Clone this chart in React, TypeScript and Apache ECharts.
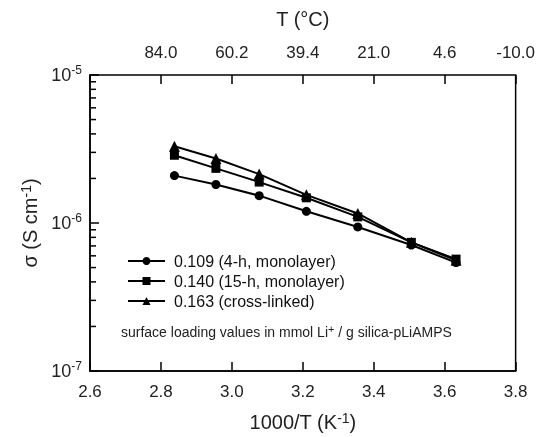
import React, { useEffect, useRef } from "react";
import * as echarts from "echarts";

const invT = [2.838, 2.955, 3.077, 3.21, 3.355, 3.506, 3.632];
const s109 = [2.09e-6, 1.82e-6, 1.53e-6, 1.2e-6, 9.4e-7, 7.1e-7, 5.4e-7];
const s140 = [2.87e-6, 2.34e-6, 1.89e-6, 1.48e-6, 1.1e-6, 7.4e-7, 5.7e-7];
const s163 = [3.3e-6, 2.73e-6, 2.14e-6, 1.55e-6, 1.16e-6, 7.4e-7, 5.6e-7];
const seriesNames = ["0.109 (4-h, monolayer)", "0.140 (15-h, monolayer)", "0.163 (cross-linked)"];
const topTickLabels = ["", "84.0", "60.2", "39.4", "21.0", "4.6", "-10.0"];
const bottomTicks = [2.6, 2.8, 3.0, 3.2, 3.4, 3.6, 3.8];
const minorTicks = [2e-7, 3e-7, 4e-7, 5e-7, 6e-7, 7e-7, 8e-7, 9e-7, 2e-6, 3e-6, 4e-6, 5e-6, 6e-6, 7e-6, 8e-6, 9e-6];

const FONT = "'Liberation Sans', Arial, sans-serif";

export default function App() {
  const ref = useRef<HTMLDivElement>(null);
  useEffect(() => {
    if (!ref.current) return;
    const chart = echarts.init(ref.current, null, { renderer: "svg" });
    const pairs = (ys: number[]) => invT.map((x, i) => [x, ys[i]]);
    const lineSeries = (name: string, ys: number[], symbol: string, size: number) => ({
      type: "line",
      name,
      data: pairs(ys),
      symbol,
      symbolSize: size,
      showAllSymbol: true,
      lineStyle: { color: "#000", width: 2 },
      itemStyle: { color: "#000" },
      emphasis: { disabled: true },
    });
    chart.setOption({
      animation: false,
      textStyle: { fontFamily: FONT },
      grid: { left: 90, right: 19, top: 75, bottom: 63, show: true, borderColor: "#000", borderWidth: 1.5 },
      legend: {
        orient: "vertical",
        left: 122,
        top: 248,
        itemWidth: 37,
        itemHeight: 10,
        itemGap: 4,
        textStyle: { fontSize: 16, color: "#111", fontFamily: FONT, padding: [0, 0, 0, 4] },
        data: seriesNames,
      },
      xAxis: [
        {
          type: "value",
          position: "bottom",
          min: 2.6,
          max: 3.8,
          interval: 0.2,
          axisLine: { lineStyle: { color: "#000", width: 1.5 } },
          axisTick: { inside: true, length: 9, lineStyle: { color: "#000", width: 1.5 } },
          axisLabel: {
            fontSize: 17,
            color: "#222",
            margin: 12,
            formatter: (v: number) => {
              const i = bottomTicks.findIndex((t) => Math.abs(t - v) < 1e-6);
              return i >= 0 ? bottomTicks[i].toFixed(1) : "";
            },
          },
          splitLine: { show: false },
          name: "1000/T (K{s|-1})",
          nameLocation: "middle",
          nameGap: 40,
          nameTextStyle: {
            fontSize: 20,
            color: "#222",
            rich: { s: { fontSize: 14, verticalAlign: "top", padding: [0, 0, 8, 0], color: "#222" } },
          },
        },
        {
          type: "value",
          position: "top",
          min: 2.6,
          max: 3.8,
          interval: 0.2,
          axisLine: { show: false },
          axisTick: { inside: true, length: 9, lineStyle: { color: "#000", width: 1.5 } },
          axisLabel: {
            fontSize: 17,
            color: "#222",
            margin: 14,
            formatter: (v: number) => {
              const i = bottomTicks.findIndex((t) => Math.abs(t - v) < 1e-6);
              return i >= 0 ? topTickLabels[i] : "";
            },
          },
          splitLine: { show: false },
          name: "T (°C)",
          nameLocation: "middle",
          nameGap: 46,
          nameTextStyle: { fontSize: 20, color: "#222" },
        },
      ],
      yAxis: {
        type: "log",
        logBase: 10,
        min: 1e-7,
        max: 1e-5,
        axisLine: { lineStyle: { color: "#000", width: 1.5 } },
        axisTick: { inside: true, length: 9, lineStyle: { color: "#000", width: 1.5 } },
        axisLabel: {
          margin: 8,
          color: "#222",
          formatter: (v: number) => "{b|10}{s|" + Math.round(Math.log10(v)) + "}",
          rich: {
            b: { fontSize: 18, color: "#222", fontFamily: FONT },
            s: { fontSize: 12, color: "#222", fontFamily: FONT, verticalAlign: "top", padding: [0, 0, 10, 0] },
          },
        },
        splitLine: { show: false },
        name: "σ (S cm{s|-1})",
        nameLocation: "middle",
        nameGap: 48,
        nameRotate: 90,
        nameTextStyle: {
          fontSize: 20,
          color: "#222",
          rich: { s: { fontSize: 14, verticalAlign: "top", padding: [0, 0, 8, 0], color: "#222" } },
        },
      },
      graphic: [
        {
          type: "text",
          left: 121,
          top: 323,
          style: {
            text: "surface loading values in mmol Li{s|+} / g silica-pLiAMPS",
            fontSize: 14,
            fontFamily: FONT,
            fill: "#222",
            rich: { s: { fontSize: 11, verticalAlign: "top", padding: [0, 0, 6, 0], fill: "#222" } },
          },
        },
      ],
      series: [
        lineSeries(seriesNames[0], s109, "circle", 9),
        lineSeries(seriesNames[1], s140, "rect", 9),
        lineSeries(seriesNames[2], s163, "triangle", 11),
        {
          type: "custom",
          silent: true,
          data: minorTicks.map((v) => [2.6, v]),
          renderItem: (params: any, api: any) => {
            const p = api.coord([2.6, api.value(1)]);
            return {
              type: "line",
              shape: { x1: p[0], y1: p[1], x2: p[0] + 6, y2: p[1] },
              style: { stroke: "#000", lineWidth: 1.5 },
            };
          },
        },
      ],
    });
    return () => chart.dispose();
  }, []);
  return <div ref={ref} style={{ position: "fixed", left: 0, top: 0, width: 538, height: 437 }} />;
}
